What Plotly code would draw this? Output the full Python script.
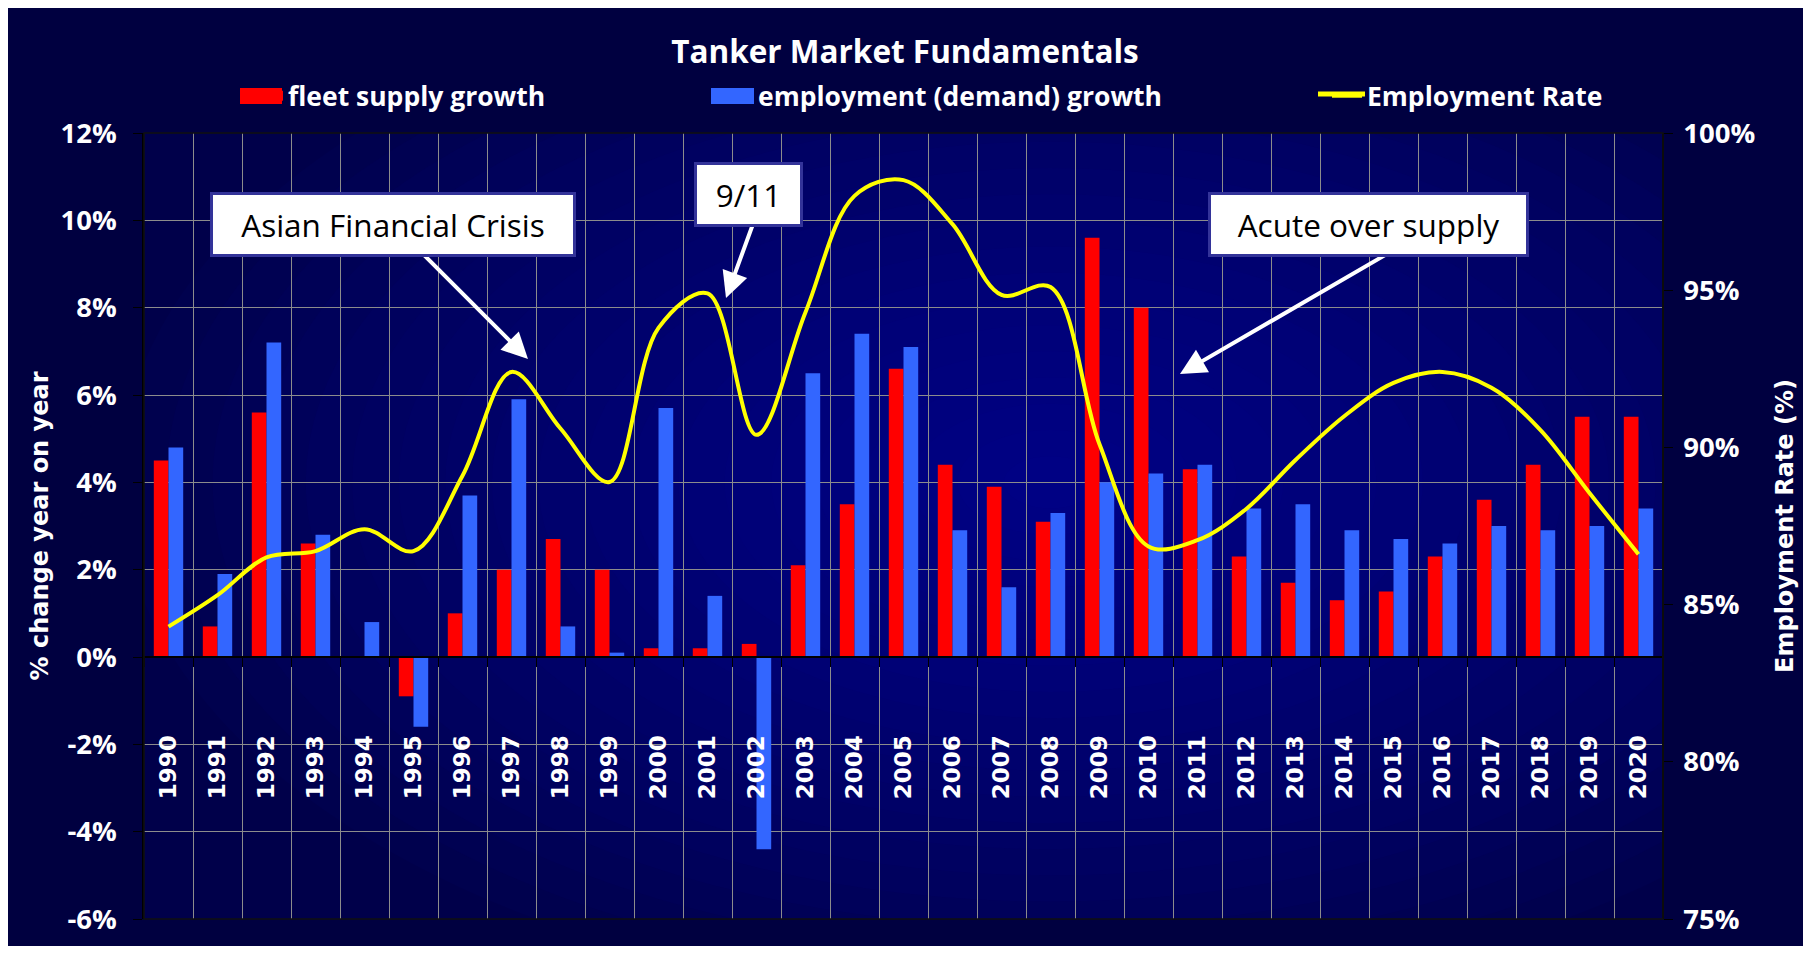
import plotly.graph_objects as go

# categories and series
years = [str(y) for y in range(1990, 2021)]
fleet_supply_growth = [4.5, 0.7, 5.6, 2.6, 0.0, -0.9, 1.0, 2.0, 2.7, 2.0, 0.2,
                       0.2, 0.3, 2.1, 3.5, 6.6, 4.4, 3.9, 3.1, 9.6, 8.0,
                       4.3, 2.3, 1.7, 1.3, 1.5, 2.3, 3.6, 4.4, 5.5, 5.5]
employment_growth = [4.8, 1.9, 7.2, 2.8, 0.8, -1.6, 3.7, 5.9, 0.7, 0.1, 5.7,
                     1.4, -4.4, 6.5, 7.4, 7.1, 2.9, 1.6, 3.3, 4.0, 4.2,
                     4.4, 3.4, 3.5, 2.9, 2.7, 2.6, 3.0, 2.9, 3.0, 3.4]
employment_rate = [84.3, 85.3, 86.5, 86.7, 87.4, 86.7, 89.1, 92.4, 90.6, 88.9, 93.8,
                   94.9, 90.4, 94.3, 98.0, 98.5, 97.1, 94.85, 95.1, 90.1, 86.85,
                   87.05, 88.05, 89.6, 91.0, 92.05, 92.4, 91.9, 90.55, 88.55, 86.6]

left_tick_values = [-6, -4, -2, 0, 2, 4, 6, 8, 10, 12]
left_tick_labels = ["-6%", "-4%", "-2%", "0%", "2%", "4%", "6%", "8%", "10%", "12%"]
right_tick_values = [75, 80, 85, 90, 95, 100]
right_tick_labels = ["75%", "80%", "85%", "90%", "95%", "100%"]

# the page body adds an 8px margin, so the figure sits at (8, 8) on screen
OFF = 8
W, H = 1795, 938
# plot area, in screen pixels
L, R, T, B = 144, 1663, 133, 919


def px_x(px):
    return (px - L) / (R - L)


def px_y(py):
    return (B - py) / (B - T)


WHITE = "#ffffff"
RED, BLUE, YELLOW = "#ff0000", "#3366ff", "#ffff00"
legend_font = dict(family="Open Sans", size=26.5, color=WHITE, weight="bold")
tick_font = dict(family="Open Sans", size=27.5, color=WHITE, weight="bold")
axis_title_font = dict(family="DejaVu Sans", size=24, color=WHITE, weight="bold")

fig = go.Figure()

# bars (legend entries come from the helper traces below)
fig.add_trace(go.Bar(x=years, y=fleet_supply_growth, name="fleet supply growth",
                     marker=dict(color=RED, line=dict(width=0)),
                     legendgroup="fleet", showlegend=False))
fig.add_trace(go.Bar(x=years, y=employment_growth, name="employment (demand) growth",
                     marker=dict(color=BLUE, line=dict(width=0)),
                     legendgroup="demand", showlegend=False))
fig.add_trace(go.Scatter(x=years, y=employment_rate, yaxis="y2", mode="lines",
                         name="Employment Rate", legend="legend3",
                         line=dict(color=YELLOW, width=4, shape="spline", smoothing=1)))

fig.add_trace(go.Scatter(x=[None], y=[None], mode="lines", name="fleet supply growth",
                         legendgroup="fleet", legend="legend",
                         line=dict(color=RED, width=16)))
fig.add_trace(go.Scatter(x=[None], y=[None], mode="lines", name="employment (demand) growth",
                         legendgroup="demand", legend="legend2",
                         line=dict(color=BLUE, width=16)))

# soft glow in the plot area: stacked translucent ellipses
shapes = []
n_glow = 20
for k in range(n_glow):
    f = 1 - k / n_glow
    shapes.append(dict(type="circle", xref="x", yref="y", layer="below",
                       x0=18 - 19 * f, x1=18 + 19 * f, y0=4 - 12 * f, y1=4 + 12 * f,
                       fillcolor="rgba(10,30,190,0.045)", line=dict(width=0)))
# plot frame
shapes.append(dict(type="rect", xref="paper", yref="paper", x0=0, x1=1, y0=0, y1=1,
                   line=dict(color="#101010", width=1.5), fillcolor="rgba(0,0,0,0)"))

# the original legend keys are wider than plotly's 30px symbols
for color, x0, x1 in [(RED, 240, 282), (BLUE, 711, 754)]:
    shapes.append(dict(type="rect", xref="paper", yref="paper",
                       x0=px_x(x0), x1=px_x(x1), y0=px_y(104), y1=px_y(88),
                       fillcolor=color, line=dict(width=0)))
shapes.append(dict(type="line", xref="paper", yref="paper",
                   x0=px_x(1318), x1=px_x(1365), y0=px_y(94), y1=px_y(94),
                   line=dict(color=YELLOW, width=5)))

# callouts: arrows first, then the boxes over them
annotations = []
arrows = [  # tip (px), start (px)
    ((528, 359), (420, 251)),
    ((726, 298), (753, 224)),
    ((1180, 374), (1387, 254)),
]
for (tx, ty), (sx, sy) in arrows:
    annotations.append(dict(xref="paper", yref="paper", x=px_x(tx), y=px_y(ty), text="",
                            showarrow=True, ax=sx - tx, ay=sy - ty,
                            arrowcolor=WHITE, arrowwidth=4, arrowhead=2, arrowsize=1.3))

boxes = [  # text, center (px), outer width (px)
    ("Asian Financial Crisis", (393, 224.5), 366),
    ("9/11", (748.5, 194.5), 109),
    ("Acute over supply", (1368.5, 224.5), 321),
]
for text, (cx, cy), ow in boxes:
    annotations.append(dict(xref="paper", yref="paper", x=px_x(cx), y=px_y(cy),
                            xanchor="center", yanchor="middle", text=text, showarrow=False,
                            font=dict(family="Open Sans", size=31.5, color="#000000"),
                            bgcolor=WHITE, bordercolor="#333399", borderwidth=3,
                            borderpad=1, width=ow - 8, height=57))

legend_common = dict(yanchor="middle", xanchor="left", y=px_y(96), orientation="h",
                     font=legend_font, bgcolor="rgba(0,0,0,0)", itemwidth=30)

fig.update_layout(
    width=W, height=H,
    margin=dict(l=L - OFF, r=W - (R - OFF), t=T - OFF, b=H - (B - OFF), autoexpand=False),
    paper_bgcolor="#000040",
    plot_bgcolor="#00004a",
    barmode="group", bargap=0.4, bargroupgap=0,
    title=dict(text="Tanker Market Fundamentals", xref="paper", x=px_x(905),
               xanchor="center", yref="container", y=1 - (52 - OFF) / H, yanchor="middle",
               font=dict(family="Open Sans", size=31.5, color=WHITE, weight="bold")),
    legend=dict(x=px_x(248), **legend_common),
    legend2=dict(x=px_x(718), **legend_common),
    legend3=dict(x=px_x(1327), **legend_common),
    xaxis=dict(type="category", range=[-0.5, 30.5], anchor="free",
               position=(0 - (-6)) / (12 - (-6)),
               tickson="boundaries", ticks="outside", ticklen=9, tickcolor="#000000",
               showline=True, linecolor="#000000", linewidth=2,
               showgrid=True, gridcolor="#8c8c8c", gridwidth=1,
               tickangle=-90, ticklabelstandoff=68,
               tickfont=dict(family="DejaVu Sans", size=23, color=WHITE, weight="bold")),
    yaxis=dict(range=[-6, 12], tickvals=left_tick_values, ticktext=left_tick_labels,
               showgrid=True, gridcolor="#8c8c8c", gridwidth=1, zeroline=False,
               showline=True, linecolor="#000000", linewidth=1.5,
               ticks="outside", ticklen=9, tickcolor="#000000", ticklabelstandoff=11,
               tickfont=tick_font,
               title=dict(text="% change year on year", standoff=5, font=axis_title_font)),
    yaxis2=dict(range=[75, 100], overlaying="y", side="right", anchor="free", position=1,
                tickvals=right_tick_values, ticktext=right_tick_labels,
                showgrid=False, zeroline=False,
                showline=True, linecolor="#000000", linewidth=1.5,
                ticks="outside", ticklen=9, tickcolor="#000000", ticklabelstandoff=5,
                tickfont=tick_font,
                title=dict(text="Employment Rate (%)", standoff=21, font=axis_title_font)),
    shapes=shapes,
    annotations=annotations,
)

fig.write_html("out.html")
